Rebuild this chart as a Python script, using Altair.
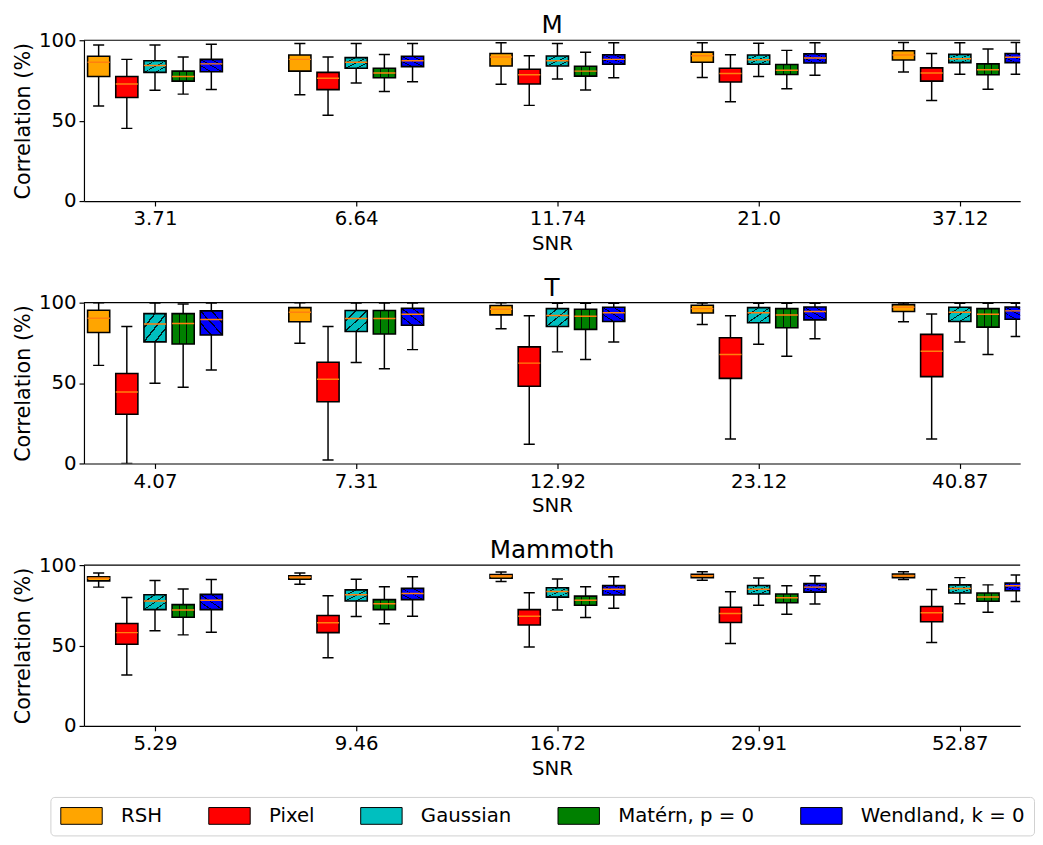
import altair as alt
import pandas as pd

methods = ["RSH", "Pixel", "Gaussian", "Matérn, p = 0", "Wendland, k = 0"]
colors = ["#FFA500", "#FF0000", "#00BFBF", "#008000", "#0000FF"]

snr_M = ["3.71", "6.64", "11.74", "21.0", "37.12"]
snr_T = ["4.07", "7.31", "12.92", "23.12", "40.87"]
snr_Mam = ["5.29", "9.46", "16.72", "29.91", "52.87"]

# each method: [whisker low, q1, median, q3, whisker high] per SNR
M_RSH = [[59.1, 66.1, 72.6, 76.9, 80.2], [77.5, 80.8, 84.0, 86.3, 87.7], [86.3, 88.1, 89.6, 90.4, 90.8], [90.0, 90.8, 91.8, 92.6, 93.5], [97.1, 98.0, 98.4, 98.4, 98.6]]
M_Pixel = [[45.2, 53.4, 59.5, 61.8, 62.6], [64.4, 69.3, 72.8, 74.0, 74.6], [72.8, 76.3, 78.5, 79.3, 79.6], [77.5, 80.0, 82.0, 82.6, 82.8], [88.1, 89.6, 90.4, 91.0, 91.8]]
M_Gauss = [[68.9, 73.4, 75.9, 77.5, 78.9], [80.0, 82.6, 84.0, 85.1, 86.1], [84.3, 86.3, 87.3, 87.9, 88.5], [87.3, 89.2, 90.2, 90.8, 91.2], [97.1, 98.0, 98.0, 98.2, 98.4]]
M_Matern = [[66.5, 68.1, 69.1, 69.9, 69.5], [74.6, 76.7, 77.7, 78.7, 78.5], [77.5, 79.6, 80.8, 81.4, 81.6], [80.8, 82.6, 83.8, 84.9, 85.3], [89.6, 91.2, 92.6, 93.7, 94.5]]
M_Wend = [[69.3, 74.2, 76.7, 78.3, 78.9], [80.4, 83.6, 85.1, 85.9, 86.1], [85.3, 87.3, 88.1, 89.0, 89.4], [88.1, 90.0, 91.0, 91.6, 91.8], [97.5, 98.0, 98.4, 98.4, 98.6]]

T_RSH = [[61.0, 74.7, 83.8, 86.4, 88.1], [81.5, 88.1, 92.4, 93.6, 94.5], [90.3, 94.0, 95.9, 96.3, 97.1], [95.3, 96.9, 98.2, 98.4, 98.8], [100, 100, 100, 99.8, 99.8]]
T_Pixel = [[0.0, 2.1, 11.9, 15.2, 15.2], [30.6, 38.4, 48.0, 52.9, 54.0], [44.4, 52.4, 62.4, 67.8, 69.8], [55.9, 63.0, 72.5, 78.2, 80.3], [85.2, 85.2, 91.8, 91.8, 93.0]]
T_Gauss = [[49.9, 62.8, 69.4, 74.1, 75.6], [75.6, 82.1, 85.2, 87.5, 88.3], [86.7, 90.1, 92.0, 93.8, 94.1], [93.2, 95.1, 96.3, 96.9, 97.1], [99.8, 99.8, 99.6, 99.6, 99.6]]
T_Matern = [[47.4, 58.9, 64.7, 66.7, 67.8], [74.3, 80.5, 83.4, 84.4, 84.8], [87.1, 90.1, 91.6, 92.4, 92.8], [93.2, 95.1, 95.9, 96.3, 96.3], [99.2, 99.8, 99.6, 99.6, 99.6]]
T_Wend = [[58.1, 70.8, 75.6, 77.6, 78.9], [79.9, 86.0, 88.3, 89.3, 89.7], [89.5, 92.8, 93.8, 94.5, 94.9], [94.9, 96.5, 97.1, 97.3, 97.3], [99.8, 99.8, 99.6, 99.6, 99.6]]

Mam_RSH = [[86.3, 88.1, 89.8, 90.6, 91.0], [90.2, 91.2, 91.8, 92.2, 92.2], [91.8, 92.4, 93.2, 93.4, 93.4], [92.8, 93.4, 94.1, 94.3, 94.5], [95.1, 95.1, 95.7, 95.9, 95.9]]
Mam_Pixel = [[31.6, 42.4, 49.0, 51.2, 51.8], [50.8, 58.0, 62.7, 64.3, 64.8], [58.0, 64.1, 68.2, 69.9, 70.3], [63.7, 68.6, 72.3, 73.8, 74.2], [79.9, 80.9, 82.8, 83.4, 84.8]]
Mam_Gauss = [[59.2, 68.0, 72.1, 75.0, 76.0], [72.3, 77.7, 80.1, 82.0, 82.6], [77.7, 81.6, 83.6, 85.0, 85.5], [81.6, 84.6, 85.9, 87.3, 87.7], [90.4, 91.2, 91.4, 92.0, 92.2]]
Mam_Matern = [[56.6, 63.5, 67.4, 69.5, 70.7], [67.6, 72.3, 75.0, 76.6, 77.5], [72.1, 76.0, 78.1, 79.7, 80.1], [75.4, 78.5, 80.7, 82.0, 82.6], [85.2, 86.5, 86.5, 87.1, 87.7]]
Mam_Wend = [[58.2, 68.2, 73.2, 75.8, 77.3], [72.3, 78.5, 81.4, 83.2, 84.0], [78.1, 82.4, 85.0, 86.3, 87.1], [81.8, 85.5, 87.3, 88.5, 88.9], [91.0, 92.8, 92.8, 93.4, 93.9]]

panels = [
    ("M", snr_M, [M_RSH, M_Pixel, M_Gauss, M_Matern, M_Wend]),
    ("T", snr_T, [T_RSH, T_Pixel, T_Gauss, T_Matern, T_Wend]),
    ("Mammoth", snr_Mam, [Mam_RSH, Mam_Pixel, Mam_Gauss, Mam_Matern, Mam_Wend]),
]

offsets = [-0.28, -0.14, 0.0, 0.14, 0.28]
box_w = 0.11
cap_w = 0.055

color_scale = alt.Scale(domain=methods, range=colors)
# wide legend patch: nominal symbol 17px square, path stretched horizontally
legend_path = "M-2.47,-1H2.47V1H-2.47Z"

CLEAR = "rgba(0,0,0,0)"
INK = "rgba(0,0,0,0.85)"


def stripes(centers, half):
    stops = [alt.GradientStop(color=CLEAR, offset=0)]
    for c in centers:
        stops += [alt.GradientStop(color=CLEAR, offset=c - half),
                  alt.GradientStop(color=INK, offset=c - half),
                  alt.GradientStop(color=INK, offset=c + half),
                  alt.GradientStop(color=CLEAR, offset=c + half)]
    stops.append(alt.GradientStop(color=CLEAR, offset=1))
    return stops


hatch_fill = {
    "Gaussian": alt.LinearGradient(gradient="linear", stops=stripes([0.25, 0.5, 0.75], 0.02),
                                   x1=0, y1=0, x2=1, y2=1),
    "Matérn, p = 0": alt.LinearGradient(gradient="linear", stops=stripes([0.333, 0.667], 0.025),
                                        x1=0, y1=0, x2=1, y2=0),
    "Wendland, k = 0": alt.LinearGradient(gradient="linear", stops=stripes([0.25, 0.5, 0.75], 0.02),
                                          x1=0, y1=1, x2=1, y2=0),
}


def make_panel(title, snr, stats, show_legend):
    rows = []
    for mi, m in enumerate(methods):
        lo, q1, med, q3, hi = stats[mi]
        for g in range(len(snr)):
            p = g + offsets[mi]
            rows.append(dict(method=m, pos=p, left=p - box_w / 2, right=p + box_w / 2,
                             capl=p - cap_w / 2, capr=p + cap_w / 2,
                             lo=lo[g], q1=q1[g], med=med[g], q3=q3[g], hi=hi[g]))
    df = pd.DataFrame(rows)
    xs = alt.Scale(domain=[-0.353, 4.3], nice=False, zero=False)
    ys = alt.Scale(domain=[0, 100], nice=False)
    labels = "[" + ",".join("'" + s + "'" for s in snr) + "]"
    xaxis = alt.Axis(values=[0, 1, 2, 3, 4], labelExpr=labels + "[datum.value]", title="SNR", grid=False)
    yaxis = alt.Axis(values=[0, 50, 100], title="Correlation (%)", grid=False, titleFontSize=21)
    base = alt.Chart(df)
    whisk = base.mark_rule(color="black", strokeWidth=1.5, clip=True).encode(
        x=alt.X("pos:Q", scale=xs, axis=xaxis), y=alt.Y("lo:Q", scale=ys, axis=yaxis), y2="hi:Q")
    cap_lo = base.mark_rule(color="black", strokeWidth=1.5, clip=True).encode(
        x="capl:Q", x2="capr:Q", y="lo:Q")
    cap_hi = base.mark_rule(color="black", strokeWidth=1.5, clip=True).encode(
        x="capl:Q", x2="capr:Q", y="hi:Q")
    fill_kwargs = dict(scale=color_scale)
    if show_legend:
        fill_kwargs["legend"] = alt.Legend(
            title=None, orient="none", legendX=-34, legendY=767, direction="horizontal",
            columns=5, symbolType=legend_path, symbolSize=289, symbolOffset=12.5,
            symbolStrokeColor="black", symbolStrokeWidth=1, labelFontSize=20, labelOffset=30,
            columnPadding=44, labelLimit=400, padding=9, strokeColor="#d0d0d0", cornerRadius=4,
            fillColor="white", labelColor="black", symbolOpacity=1)
    box = base.mark_rect(stroke="black", strokeWidth=1.6, clip=True, opacity=1).encode(
        x="left:Q", x2="right:Q", y="q1:Q", y2="q3:Q", fill=alt.Fill("method:N", **fill_kwargs))
    hatches = []
    for m, grad in hatch_fill.items():
        hatches.append(base.transform_filter(alt.datum.method == m).mark_rect(
            fill=grad, clip=True, strokeWidth=0).encode(
            x="left:Q", x2="right:Q", y="q1:Q", y2="q3:Q"))
    median = base.mark_rule(color="#ff7f0e", strokeWidth=1.5, clip=True).encode(
        x="left:Q", x2="right:Q", y="med:Q")
    top = alt.Chart(pd.DataFrame({"v": [100]})).mark_rule(color="black", strokeWidth=1.2).encode(
        y=alt.Y("v:Q", scale=ys))
    return alt.layer(whisk, cap_lo, cap_hi, box, *hatches, median, top).properties(
        width=949, height=163, title=alt.Title(title, fontSize=25, fontWeight="normal", offset=-8))


charts = [make_panel(t, s, st, i == 0) for i, (t, s, st) in enumerate(panels)]

chart = alt.vconcat(*charts, spacing=23).properties(
    padding={"left": 4, "top": 0, "right": 0, "bottom": 0}
).configure(
    font="DejaVu Sans"
).configure_view(strokeWidth=0).configure_axis(
    labelFontSize=20, titleFontSize=20, titleFontWeight="normal", labelColor="black",
    titleColor="black", domainColor="black", tickColor="black", tickSize=5, labelPadding=3,
    titlePadding=5, domainWidth=1.2, tickWidth=1.2
).configure_title(color="black", anchor="middle")

chart.save("out.html", embed_options={"renderer": "svg", "actions": False})
